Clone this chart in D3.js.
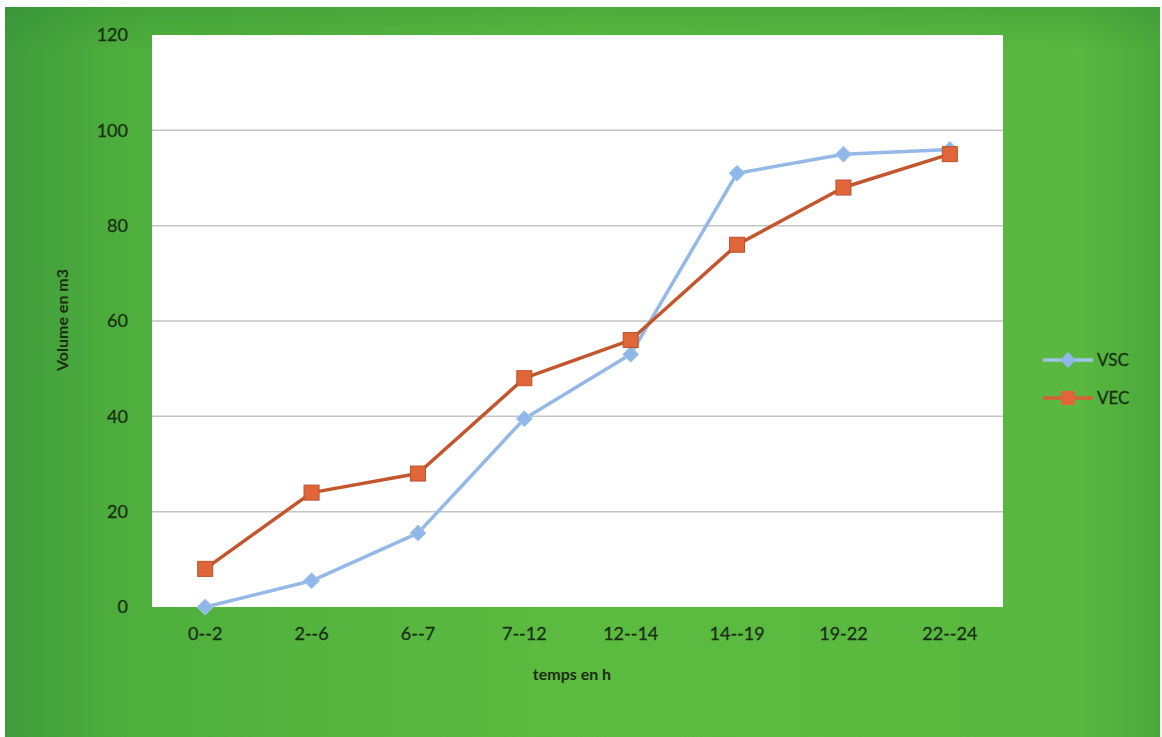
<!DOCTYPE html>
<html>
<head>
<meta charset="utf-8">
<script src="https://cdn.jsdelivr.net/npm/d3@7"></script>
<style>
  html, body { margin: 0; padding: 0; background: #ffffff; }
  svg { display: block; }
  text { font-family: Lato, "Open Sans", sans-serif; }
</style>
</head>
<body>
<svg id="chart" width="1162" height="737"></svg>
<script>
// Time intervals (hours) and cumulative volumes (m3)
const categories = ["0--2", "2--6", "6--7", "7--12", "12--14", "14--19", "19-22", "22--24"];
const vsc = [0, 5.5, 15.5, 39.5, 53, 91, 95, 96];
const vec = [8, 24, 28, 48, 56, 76, 88, 95];
const yTicks = [0, 20, 40, 60, 80, 100, 120];
const seriesNames = ["VSC", "VEC"];

const svg = d3.select("#chart");
const W = 1162, H = 737;

// Green card background
const defs = svg.append("defs");
const g1 = defs.append("linearGradient").attr("id", "bg").attr("x1", "0").attr("x2", "1").attr("y1", "0").attr("y2", "0");
g1.append("stop").attr("offset", "0").attr("stop-color", "#3f9c3c");
g1.append("stop").attr("offset", "0.1").attr("stop-color", "#4eae3c");
g1.append("stop").attr("offset", "0.5").attr("stop-color", "#5cbc40");
g1.append("stop").attr("offset", "0.93").attr("stop-color", "#58b83f");
g1.append("stop").attr("offset", "1").attr("stop-color", "#4aa93c");
const g2 = defs.append("linearGradient").attr("id", "shade").attr("x1", "0").attr("x2", "0").attr("y1", "0").attr("y2", "1");
g2.append("stop").attr("offset", "0").attr("stop-color", "#2f8a34").attr("stop-opacity", 0.35);
g2.append("stop").attr("offset", "0.06").attr("stop-color", "#2f8a34").attr("stop-opacity", 0);
g2.append("stop").attr("offset", "1").attr("stop-color", "#2f8a34").attr("stop-opacity", 0);

svg.append("rect").attr("x", 5).attr("y", 7).attr("width", W - 7).attr("height", H - 7).attr("fill", "url(#bg)");
svg.append("rect").attr("x", 5).attr("y", 7).attr("width", W - 7).attr("height", H - 7).attr("fill", "url(#shade)");

// Plot area
const plot = { left: 152, top: 35, right: 1003, bottom: 607 };

const x = d3.scaleBand().domain(categories).range([plot.left, plot.right]);
const y = d3.scaleLinear().domain([0, 120]).range([plot.bottom, plot.top]);
const cx = d => x(d) + x.bandwidth() / 2;

svg.append("rect")
  .attr("x", plot.left).attr("y", plot.top)
  .attr("width", plot.right - plot.left).attr("height", plot.bottom - plot.top)
  .attr("fill", "#ffffff");

// Horizontal gridlines
svg.append("g")
  .selectAll("line")
  .data(yTicks.filter(t => t > 0 && t < 120))
  .join("line")
  .attr("x1", plot.left).attr("x2", plot.right)
  .attr("y1", d => y(d)).attr("y2", d => y(d))
  .attr("stroke", "#c4c4c4").attr("stroke-width", 1.5);

const labelColor = "#1a2f14";

// Y axis labels
const yAxis = d3.axisLeft(y).tickValues(yTicks).tickSize(0).tickPadding(24);
const yg = svg.append("g").attr("transform", `translate(${plot.left},0)`).call(yAxis);
yg.select(".domain").remove();
yg.selectAll("text").attr("font-size", 18).attr("fill", labelColor).attr("font-family", "Lato, sans-serif")
  .attr("stroke", labelColor).attr("stroke-width", 0.3);

// X axis labels
const xAxis = d3.axisBottom(x).tickSize(0).tickPadding(20);
const xg = svg.append("g").attr("transform", `translate(0,${plot.bottom})`).call(xAxis);
xg.select(".domain").remove();
xg.selectAll("text").attr("font-size", 18).attr("fill", labelColor).attr("font-family", "Lato, sans-serif")
  .attr("stroke", labelColor).attr("stroke-width", 0.3);

// Axis titles
svg.append("text")
  .attr("x", 572).attr("y", 680)
  .attr("text-anchor", "middle")
  .attr("font-size", 16).attr("font-weight", "bold").attr("fill", "#1e2a14")
  .text("temps en h");
svg.append("text")
  .attr("transform", "translate(68,320) rotate(-90)")
  .attr("text-anchor", "middle")
  .attr("font-size", 16).attr("font-weight", "bold").attr("fill", "#1e2a14")
  .text("Volume en m3");

const line = d3.line().x((d, i) => cx(categories[i])).y(d => y(d));

const colors = { VSC: "#94b9e6", VEC: "#c4562e" };

// VSC series
svg.append("path").datum(vsc)
  .attr("d", line).attr("fill", "none")
  .attr("stroke", colors.VSC).attr("stroke-width", 3.5).attr("stroke-linejoin", "round");
const dm = 8;
const diamondPath = `M0,${-dm}L${dm},0L0,${dm}L${-dm},0Z`;
svg.append("g").selectAll("path").data(vsc).join("path")
  .attr("d", diamondPath)
  .attr("transform", (d, i) => `translate(${cx(categories[i])},${y(d)})`)
  .attr("fill", "#8fb8e8").attr("stroke", "#a9c8ee").attr("stroke-width", 1);

// VEC series
svg.append("path").datum(vec)
  .attr("d", line).attr("fill", "none")
  .attr("stroke", colors.VEC).attr("stroke-width", 3.5).attr("stroke-linejoin", "round");
const sq = 15;
svg.append("g").selectAll("rect").data(vec).join("rect")
  .attr("x", (d, i) => cx(categories[i]) - sq / 2)
  .attr("y", d => y(d) - sq / 2)
  .attr("width", sq).attr("height", sq)
  .attr("fill", "#e0663a").attr("stroke", "#b8502c").attr("stroke-width", 1);

// Legend
const legend = svg.append("g");
const legY = [360, 398];
seriesNames.forEach((name, i) => {
  const ly = legY[i];
  legend.append("line")
    .attr("x1", 1043).attr("x2", 1093).attr("y1", ly).attr("y2", ly)
    .attr("stroke", i === 0 ? "#9fc2ea" : "#d95f36").attr("stroke-width", 3.5);
  if (i === 0) {
    legend.append("path").attr("d", diamondPath)
      .attr("transform", `translate(1068,${ly})`).attr("fill", "#8fb8e8");
  } else {
    legend.append("rect").attr("x", 1068 - 7).attr("y", ly - 7).attr("width", 14).attr("height", 14)
      .attr("fill", "#e0663a");
  }
  legend.append("text")
    .attr("x", 1097).attr("y", ly + 6)
    .attr("font-size", 17).attr("fill", labelColor)
    .attr("stroke", labelColor).attr("stroke-width", 0.3)
    .text(name);
});
</script>
</body>
</html>
